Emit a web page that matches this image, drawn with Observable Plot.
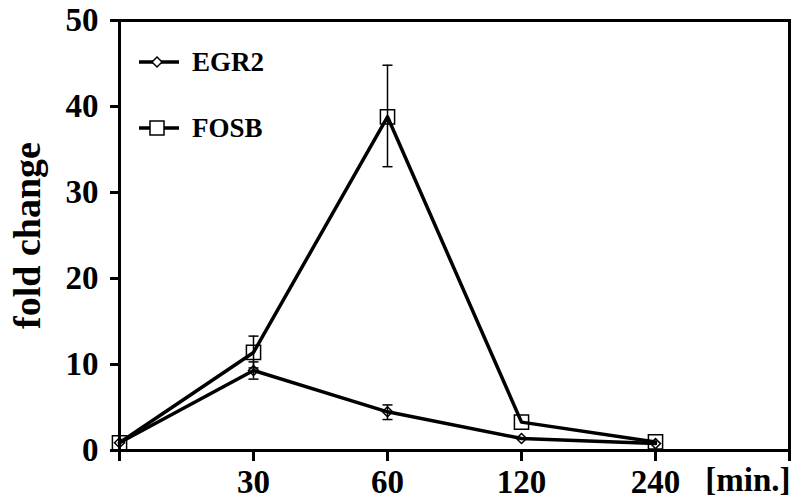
<!DOCTYPE html>
<html>
<head>
<meta charset="utf-8">
<script src="https://cdn.jsdelivr.net/npm/d3@7"></script>
<script src="https://cdn.jsdelivr.net/npm/@observablehq/plot@0.6"></script>
<style>
  body { margin: 0; background: white; }
  #wrap { position: relative; width: 793px; height: 503px; font-family: "Liberation Serif", serif; font-weight: bold; }
  #wrap svg g, #wrap svg text { font-size: 33px; }
  #wrap svg g[aria-label="y-axis label"], #wrap svg g[aria-label="y-axis label"] text { font-size: 38px; }
  .leg { position: absolute; left: 136px; display: flex; align-items: center; font-size: 27px; line-height: 1; }
  .leg svg { margin-right: 12px; }
</style>
</head>
<body>
<div id="wrap"></div>
<script>
const times = ["0", "30", "60", "120", "240"];
const xTickLabels = ["", "30", "60", "120", "240", ""];
const yTicks = [0, 10, 20, 30, 40, 50];
const egr2 = [0.9, 9.3, 4.5, 1.4, 0.8];
const egr2Lo = [null, 8.3, 3.6, null, null];
const egr2Hi = [null, 10.3, 5.3, null, null];
const fosb = [0.9, 11.4, 38.8, 3.3, 1.0];
const fosbLo = [null, 9.6, 33.0, null, null];
const fosbHi = [null, 13.3, 44.8, null, null];

const rows = [];
times.forEach((t, i) => {
  rows.push({series: "EGR2", i, value: egr2[i], lo: egr2Lo[i], hi: egr2Hi[i]});
  rows.push({series: "FOSB", i, value: fosb[i], lo: fosbLo[i], hi: fosbHi[i]});
});
const errRows = rows.filter(d => d.lo != null);
const capSymbol = {draw(ctx, size) { const r = Math.sqrt(size / Math.PI); ctx.moveTo(-r, 0); ctx.lineTo(r, 0); }};

const chart = Plot.plot({
  width: 793, height: 503,
  marginLeft: 119, marginRight: 4, marginTop: 20, marginBottom: 53,
  x: {domain: [0, times.length]},
  y: {domain: [0, 50]},
  style: {fontFamily: "Liberation Serif", fontWeight: "bold", color: "black", background: "white"},
  marks: [
    Plot.frame({stroke: "black", strokeWidth: 3}),
    Plot.axisY({ticks: yTicks, tickSize: 9, tickPadding: 12, strokeWidth: 3,
      label: "fold change", labelAnchor: "center", labelArrow: "none", labelOffset: 106}),
    Plot.axisX({ticks: d3.range(xTickLabels.length), tickFormat: i => xTickLabels[i], tickSize: 11, tickPadding: 8,
      strokeWidth: 3, label: "[min.]", labelAnchor: "right", labelArrow: "none", labelOffset: 40}),
    Plot.ruleX(errRows, {x: "i", y1: "lo", y2: "hi", stroke: "black", strokeWidth: 1.5}),
    Plot.dot(errRows, {x: "i", y: "lo", symbol: capSymbol, r: 5, stroke: "black", strokeWidth: 1.5}),
    Plot.dot(errRows, {x: "i", y: "hi", symbol: capSymbol, r: 5, stroke: "black", strokeWidth: 1.5}),
    Plot.line(rows, {x: "i", y: "value", z: "series", stroke: "black", strokeWidth: 3.5}),
    Plot.dot(rows.filter(d => d.series === "EGR2"), {x: "i", y: "value", symbol: "diamond2", r: 4.5, fill: "none", stroke: "black", strokeWidth: 1.5}),
    Plot.dot(rows.filter(d => d.series === "FOSB"), {x: "i", y: "value", symbol: "square", r: 8, fill: "none", stroke: "black", strokeWidth: 1.5})
  ]
});
const wrap = document.getElementById("wrap");
wrap.appendChild(chart);

const legendItems = [
  {name: "EGR2", top: 62, shape: '<path d="M19,-5L24,0L19,5L14,0Z" fill="white" stroke="black" stroke-width="1.5"/>'},
  {name: "FOSB", top: 128, shape: '<rect x="12" y="-7" width="14" height="14" fill="white" stroke="black" stroke-width="1.5"/>'}
];
legendItems.forEach(item => {
  const div = document.createElement("div");
  div.className = "leg";
  div.style.top = (item.top - 16) + "px";
  div.style.height = "32px";
  div.innerHTML = `<svg width="44" height="20" viewBox="-2 -10 44 20"><line x1="1" x2="41" y1="0" y2="0" stroke="black" stroke-width="3.5"/>${item.shape}</svg><span>${item.name}</span>`;
  wrap.appendChild(div);
});
</script>
</body>
</html>
